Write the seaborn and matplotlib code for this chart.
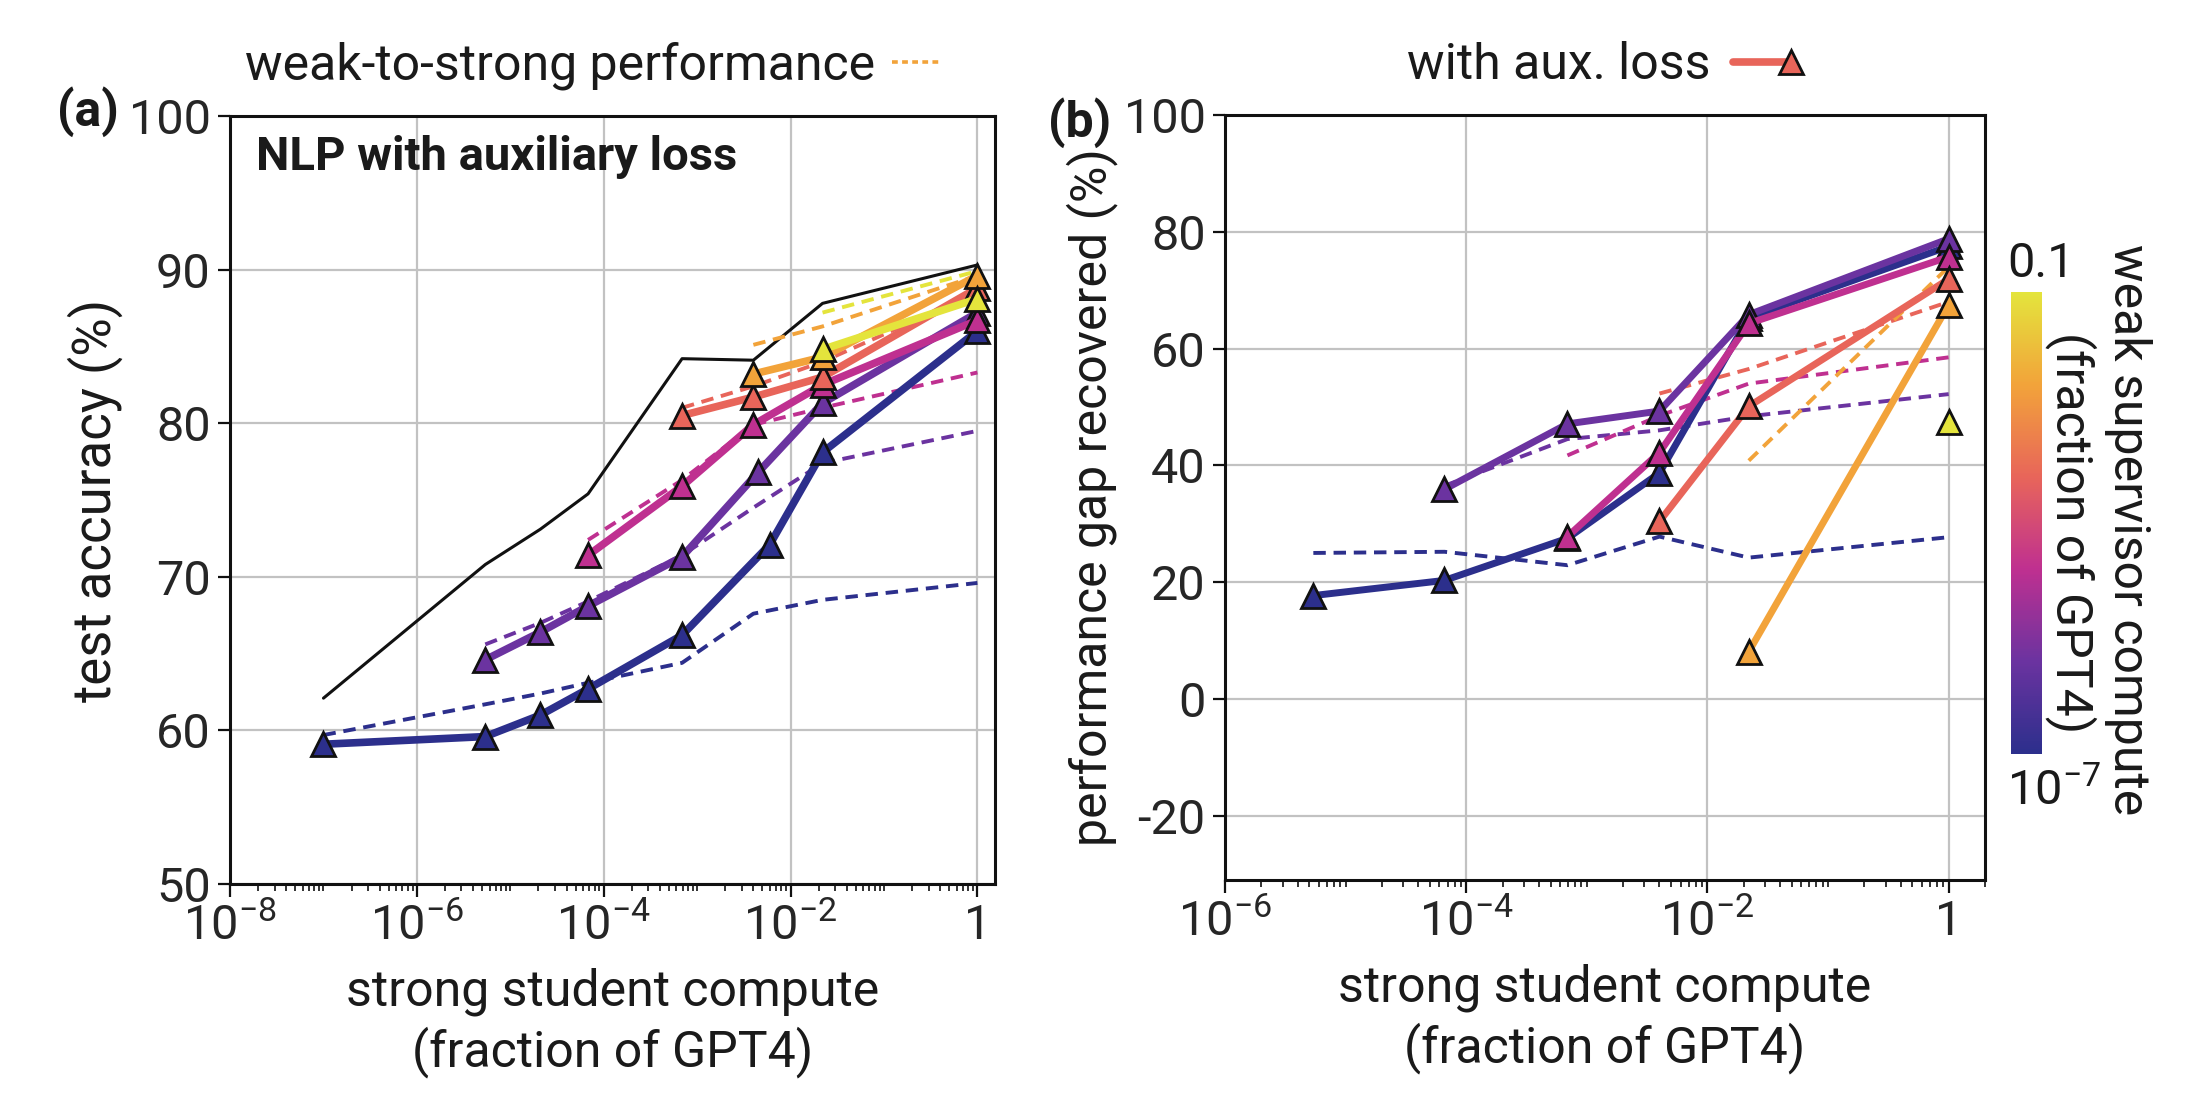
import numpy as np
import matplotlib
matplotlib.use("Agg")
import matplotlib.pyplot as plt
import seaborn as sns
from matplotlib.colors import LinearSegmentedColormap, LogNorm
from matplotlib.cm import ScalarMappable
from matplotlib.lines import Line2D
from matplotlib.legend_handler import HandlerLine2D
from matplotlib.ticker import (FixedLocator, FixedFormatter, LogLocator, NullLocator,
                               NullFormatter, MultipleLocator)

# ---- data ----
# strong ceiling (black line), panel (a)
strong_x = [1e-7, 5.4e-6, 2.1e-5, 6.8e-5, 6.9e-4, 4.0e-3, 2.2e-2, 1.0]
strong_acc = [62.1, 70.8, 73.1, 75.4, 84.2, 84.1, 87.8, 90.3]

# panel (a): test accuracy with aux. loss (solid, triangles), one list per weak supervisor
aux_x = [
    [1e-7, 5.4e-6, 2.1e-5, 6.8e-5, 6.9e-4, 6.0e-3, 2.2e-2, 1.0],
    [5.4e-6, 2.1e-5, 6.8e-5, 6.9e-4, 4.5e-3, 2.2e-2, 1.0],
    [6.8e-5, 6.9e-4, 4.0e-3, 2.2e-2, 1.0],
    [6.9e-4, 4.0e-3, 2.2e-2, 1.0],
    [4.0e-3, 2.2e-2, 1.0],
    [2.2e-2, 1.0],
]
aux_acc = [
    [59.1, 59.6, 61.0, 62.7, 66.2, 72.1, 78.1, 86.0],
    [64.6, 66.4, 68.1, 71.3, 76.8, 81.3, 87.2],
    [71.4, 75.9, 79.9, 82.5, 86.7],
    [80.5, 81.7, 83.0, 88.8],
    [83.2, 84.3, 89.6],
    [84.8, 88.1],
]
# panel (a): plain weak-to-strong performance (dashed)
w2s_x = [
    [1e-7, 5.4e-6, 2.1e-5, 6.8e-5, 6.9e-4, 4.0e-3, 2.2e-2, 1.0],
    [5.4e-6, 2.1e-5, 6.8e-5, 6.9e-4, 4.0e-3, 2.2e-2, 1.0],
    [6.8e-5, 6.9e-4, 4.0e-3, 2.2e-2, 1.0],
    [6.9e-4, 4.0e-3, 2.2e-2, 1.0],
    [4.0e-3, 2.2e-2, 1.0],
    [2.2e-2, 1.0],
]
w2s_acc = [
    [59.7, 61.7, 62.4, 63.1, 64.4, 67.6, 68.5, 69.6],
    [65.6, 67.0, 68.4, 71.4, 74.5, 77.4, 79.5],
    [72.4, 76.3, 79.9, 81.0, 83.3],
    [81.0, 82.4, 84.0, 88.5],
    [85.1, 86.3, 89.6],
    [87.2, 89.9],
]

# panel (b): performance gap recovered
pgr_aux_x = [
    [5.4e-6, 6.6e-5, 6.9e-4, 4.0e-3, 2.2e-2, 1.0],
    [6.6e-5, 6.9e-4, 4.0e-3, 2.2e-2, 1.0],
    [6.9e-4, 4.0e-3, 2.2e-2, 1.0],
    [4.0e-3, 2.2e-2, 1.0],
    [2.2e-2, 1.0],
    [1.0],
]
pgr_aux = [
    [17.7, 20.3, 27.5, 38.7, 65.3, 77.5],
    [35.9, 47.1, 49.3, 65.8, 78.8],
    [27.8, 42.2, 64.3, 75.7],
    [30.4, 50.1, 71.9],
    [8.1, 67.5],
    [47.5],
]
pgr_w2s_x = [
    [5.4e-6, 6.6e-5, 6.9e-4, 4.0e-3, 2.2e-2, 1.0],
    [6.6e-5, 6.9e-4, 4.0e-3, 2.2e-2, 1.0],
    [6.9e-4, 4.0e-3, 2.2e-2, 1.0],
    [4.0e-3, 2.2e-2, 1.0],
    [2.2e-2, 1.0],
]
pgr_w2s = [
    [25.0, 25.2, 22.9, 27.8, 24.2, 27.7],
    [36.5, 44.5, 46.0, 48.4, 52.2],
    [41.7, 48.5, 54.0, 58.5],
    [52.3, 56.5, 68.0],
    [40.8, 74.0],
]

cbar_ticks = ["10$^{-7}$", "0.1"]

# ---- style ----
sns.set_theme(style="ticks")
plt.rcParams["font.family"] = ["Roboto", "DejaVu Sans"]
plt.rcParams["mathtext.default"] = "regular"
plt.rcParams["axes.unicode_minus"] = False
plt.rcParams["text.color"] = "#1a1a1a"
plt.rcParams["axes.labelcolor"] = "#1a1a1a"

cmap = LinearSegmentedColormap.from_list(
    "w2s", ["#2c2f8c", "#6b33a0", "#bf3090", "#e8655a", "#f2a33a", "#e4e43c"])
n_sup = len(aux_x)
colors = [cmap(i / (n_sup - 1)) for i in range(n_sup)]

TICK = 35
LAB = 36

fig = plt.figure(figsize=(22.1, 10.96), dpi=100)
ax_a = fig.add_axes([0.1041, 0.1934, 0.3462, 0.7008])
ax_b = fig.add_axes([0.5543, 0.1971, 0.3439, 0.6980])
cax = fig.add_axes([0.9100, 0.3120, 0.0140, 0.4215])

dash = (0, (3.2, 2.0))
mk = dict(marker="^", ms=17, mec="#111111", mew=2)


def style_axes(ax, decades, xlim, ylim, ystep):
    ax.set_xscale("log")
    ax.set_xlim(*xlim)
    ax.set_ylim(*ylim)
    major = [10.0 ** d for d in decades]
    ax.xaxis.set_major_locator(FixedLocator(major))
    ax.xaxis.set_major_formatter(FixedFormatter(
        ["1" if d == 0 else "10$^{%d}$" % d for d in decades]))
    ax.xaxis.set_minor_locator(LogLocator(base=10, subs=np.arange(1, 10), numticks=30))
    ax.xaxis.set_minor_formatter(NullFormatter())
    ax.yaxis.set_major_locator(MultipleLocator(ystep))
    ax.yaxis.set_minor_locator(NullLocator())
    ax.grid(True, which="major", color="#c2c2c2", lw=1.6)
    ax.set_axisbelow(True)
    ax.tick_params(which="major", labelsize=TICK, length=9, width=1.6, color="#111111", pad=5)
    ax.tick_params(which="minor", length=5, width=1.2, color="#111111")
    for s in ax.spines.values():
        s.set_linewidth(2.2)
        s.set_color("#111111")


# ---- panel (a) ----
style_axes(ax_a, [-8, -6, -4, -2, 0], (1e-8, 1.55), (50, 100), 10)
sns.lineplot(x=strong_x, y=strong_acc, ax=ax_a, color="#111111", lw=2.2,
             estimator=None, sort=False)
for i in range(n_sup):
    sns.lineplot(x=w2s_x[i], y=w2s_acc[i], ax=ax_a, color=colors[i], lw=2.8,
                 linestyle=dash, estimator=None, sort=False)
for i in range(n_sup):
    sns.lineplot(x=aux_x[i], y=aux_acc[i], ax=ax_a, color=colors[i], lw=5.5,
                 estimator=None, sort=False, **mk)
ax_a.set_ylabel("test accuracy (%)", fontsize=38, labelpad=4)
ax_a.set_xlabel("strong student compute\n(fraction of GPT4)", fontsize=LAB,
                linespacing=1.25, labelpad=13)
ax_a.text(0.034, 0.975, "NLP with auxiliary loss", transform=ax_a.transAxes,
          fontsize=34, fontweight="bold", va="top", ha="left")
h_w2s = Line2D([], [], color=colors[4], lw=2.6, linestyle=(0, (1.6, 1.2)))
ax_a.legend([h_w2s], ["weak-to-strong performance"], loc="center",
            bbox_to_anchor=(0.475, 1.065), frameon=False, markerfirst=False,
            handlelength=1.0, handletextpad=0.35, fontsize=LAB,
            borderaxespad=0, borderpad=0)

# ---- panel (b) ----
style_axes(ax_b, [-6, -4, -2, 0], (1e-6, 2.0), (-31, 100), 20)
for i in range(len(pgr_w2s)):
    sns.lineplot(x=pgr_w2s_x[i], y=pgr_w2s[i], ax=ax_b, color=colors[i], lw=2.8,
                 linestyle=dash, estimator=None, sort=False)
for i in range(n_sup):
    sns.lineplot(x=pgr_aux_x[i], y=pgr_aux[i], ax=ax_b, color=colors[i], lw=5.0,
                 estimator=None, sort=False, **mk)
ax_b.set_ylabel("performance gap recovered (%)", fontsize=LAB, labelpad=4)
ax_b.set_xlabel("strong student compute\n(fraction of GPT4)", fontsize=LAB,
                linespacing=1.25, labelpad=13)


class EndMarker(HandlerLine2D):
    def create_artists(self, *args, **kwargs):
        arts = super().create_artists(*args, **kwargs)
        arts[0].set_markevery([2])
        return arts


h_aux = Line2D([], [], color=colors[3], lw=5.5, **mk)
ax_b.legend([h_aux], ["with aux. loss"], loc="center",
            bbox_to_anchor=(0.492, 1.065), frameon=False, markerfirst=False,
            handlelength=1.16, handletextpad=0.45, fontsize=LAB, numpoints=1,
            handler_map={h_aux: EndMarker()}, borderaxespad=0, borderpad=0)

# ---- colorbar ----
sm = ScalarMappable(norm=LogNorm(1e-7, 0.1), cmap=cmap)
cb = fig.colorbar(sm, cax=cax)
cb.outline.set_visible(False)
cax.yaxis.set_major_locator(NullLocator())
cax.yaxis.set_minor_locator(NullLocator())
cax.text(-0.13, 1.01, cbar_ticks[1], transform=cax.transAxes, ha="left", va="bottom",
         fontsize=TICK)
cax.text(-0.13, -0.03, cbar_ticks[0], transform=cax.transAxes, ha="left", va="top",
         fontsize=TICK)
cax.text(3.77, 0.485, "weak supervisor compute", transform=cax.transAxes,
         rotation=270, ha="center", va="center", fontsize=LAB)
cax.text(1.94, 0.48, "(fraction of GPT4)", transform=cax.transAxes,
         rotation=270, ha="center", va="center", fontsize=LAB)

# panel tags
fig.text(0.0398, 0.898, "(a)", fontsize=36, fontweight="bold", ha="center", va="center")
fig.text(0.4887, 0.888, "(b)", fontsize=36, fontweight="bold", ha="center", va="center")

fig.savefig("out.png", dpi=100)
